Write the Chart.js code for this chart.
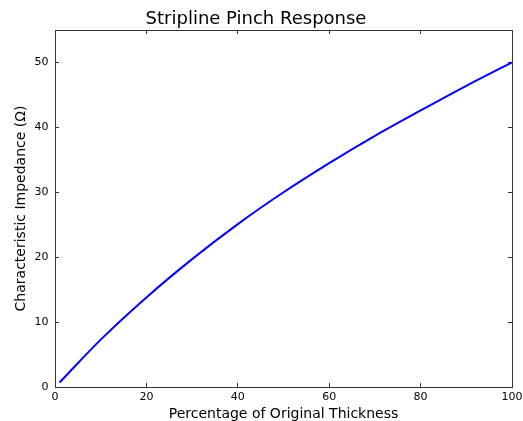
<!DOCTYPE html>
<html>
<head>
<meta charset="utf-8">
<script src="https://cdn.jsdelivr.net/npm/chart.js@4/dist/chart.umd.min.js"></script>
<style>
  html, body { margin: 0; padding: 0; background: #fff; }
  #wrap { width: 523px; height: 421px; }
</style>
</head>
<body>
<div id="wrap"><canvas id="c" width="523" height="421"></canvas></div>
<script>
// Data
const thicknessPct = [1, 10, 20, 30, 40, 50, 60, 70, 80, 90, 100];
const impedance    = [0.7, 7.3, 13.8, 19.7, 25.1, 30.0, 34.5, 38.7, 42.6, 46.4, 50.0];
const xTicks = [0, 20, 40, 60, 80, 100];
const yTicks = [0, 10, 20, 30, 40, 50];

const titleText = 'Stripline Pinch Response';
const xLabel = 'Percentage of Original Thickness';
const yLabel = 'Characteristic Impedance (\u03A9)';

const FONT = 'DejaVu Sans';
const frameColor = '#333';

const points = thicknessPct.map((x, i) => ({ x: x, y: impedance[i] }));

function fixTicks(values) {
  return function (scale) {
    scale.ticks = values.map(v => ({ value: v }));
  };
}
function noPad(s) {
  s.paddingLeft = 0; s.paddingRight = 0; s.paddingTop = 0; s.paddingBottom = 0;
}

new Chart(document.getElementById('c'), {
  type: 'line',
  data: {
    datasets: [{
      data: points,
      borderColor: '#0000ff',
      borderWidth: 2,
      pointRadius: 0,
      fill: false,
      cubicInterpolationMode: 'monotone'
    }]
  },
  options: {
    responsive: false,
    animation: false,
    layout: { padding: { left: 0, right: 11, top: 0, bottom: 0 } },
    plugins: {
      legend: { display: false },
      tooltip: { enabled: false },
      title: {
        display: true,
        text: titleText,
        color: '#000',
        font: { family: FONT, size: 18, weight: 'normal', lineHeight: 1.1 },
        padding: { top: 9.6, bottom: 0.6 }
      }
    },
    scales: {
      x: {
        type: 'linear', position: 'bottom', min: 0, max: 100,
        afterBuildTicks: fixTicks(xTicks),
        afterFit: s => { s.height = 34; noPad(s); },
        border: { display: true, color: frameColor, width: 1 },
        grid: { drawOnChartArea: false, drawTicks: true, tickLength: -4, color: frameColor },
        ticks: { color: '#000', font: { family: FONT, size: 11 }, padding: 7.3, maxRotation: 0 },
        title: {
          display: true, text: xLabel, color: '#000',
          font: { family: FONT, size: 14, lineHeight: 1 },
          padding: { top: 0, bottom: 0 }
        }
      },
      x2: {
        type: 'linear', position: 'top', min: 0, max: 100,
        afterBuildTicks: fixTicks(xTicks),
        afterFit: s => { s.height = 0; noPad(s); },
        border: { display: true, color: frameColor, width: 1 },
        grid: { drawOnChartArea: false, drawTicks: true, tickLength: -4, color: frameColor },
        ticks: { display: false }
      },
      y: {
        type: 'linear', position: 'left', min: 0, max: 55,
        afterBuildTicks: fixTicks(yTicks),
        afterFit: s => { s.width = 55; noPad(s); },
        border: { display: true, color: frameColor, width: 1 },
        grid: { drawOnChartArea: false, drawTicks: true, tickLength: -4, color: frameColor },
        ticks: { color: '#000', font: { family: FONT, size: 11 }, padding: 10.5 },
        title: {
          display: true, text: yLabel, color: '#000',
          font: { family: FONT, size: 14, lineHeight: 1 },
          padding: { top: 14.5, bottom: 0 }
        }
      },
      y2: {
        type: 'linear', position: 'right', min: 0, max: 55,
        afterBuildTicks: fixTicks(yTicks),
        afterFit: s => { s.width = 0; noPad(s); },
        border: { display: true, color: frameColor, width: 1 },
        grid: { drawOnChartArea: false, drawTicks: true, tickLength: -4, color: frameColor },
        ticks: { display: false }
      }
    }
  }
});
</script>
</body>
</html>
